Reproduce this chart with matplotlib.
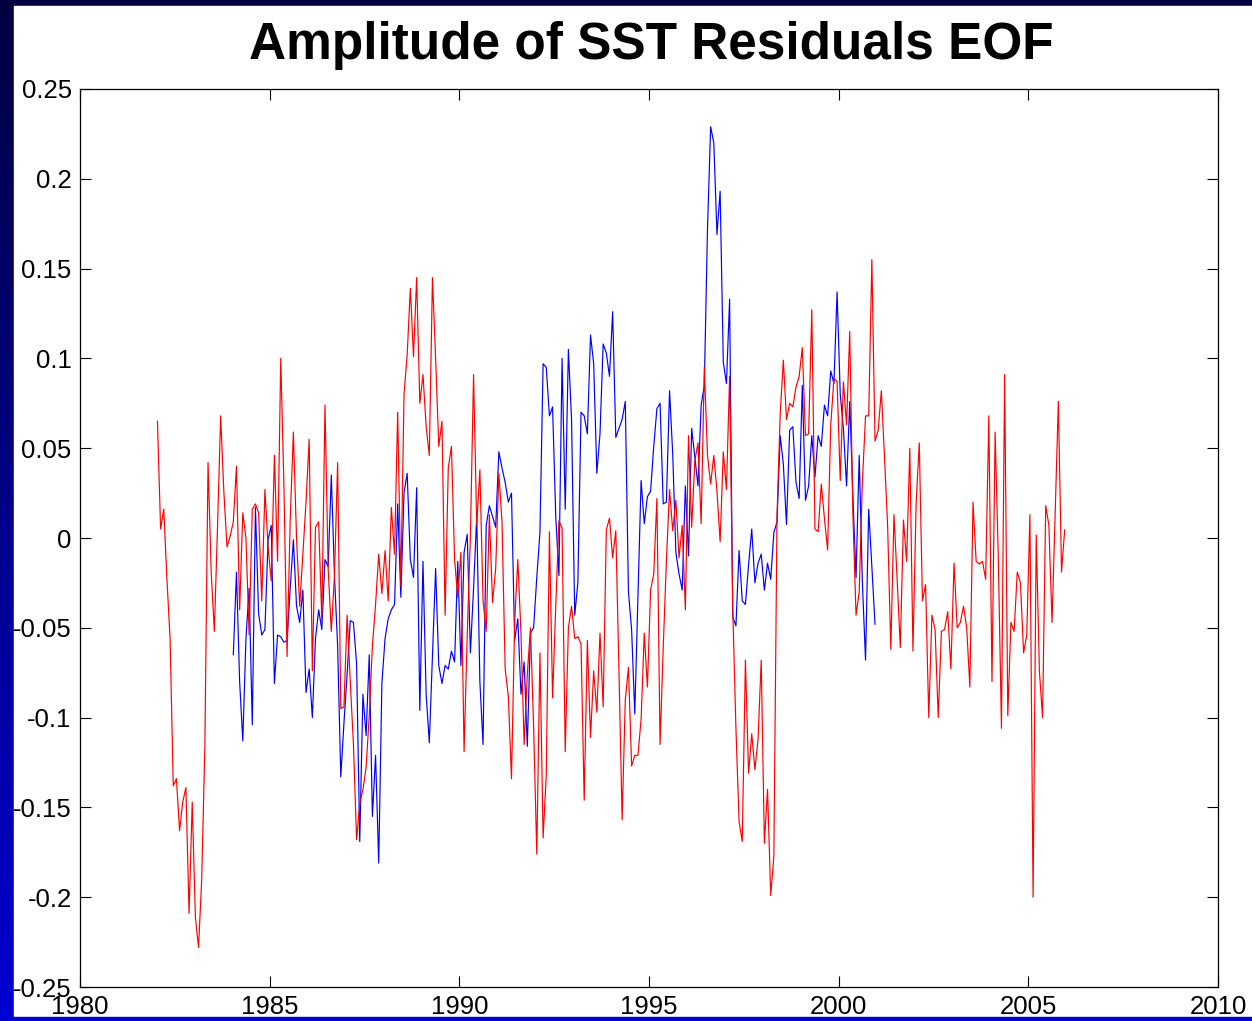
import numpy as np
import matplotlib
matplotlib.use("Agg")
import matplotlib.pyplot as plt
from matplotlib.colors import LinearSegmentedColormap
from matplotlib.patches import Rectangle

plt.rcParams["font.family"] = ["Liberation Sans", "DejaVu Sans"]
plt.rcParams["axes.unicode_minus"] = False

# monthly EOF amplitudes
red_start = 1982.0
red_amp = [
    0.065, 0.005, 0.016, -0.023, -0.056, -0.138, -0.134, -0.163, -0.147, -0.139, -0.209, -0.147,
    -0.211, -0.228, -0.19, -0.116, 0.042, -0.019, -0.052, 0.006, 0.068, 0.026, -0.005, 0.001,
    0.009, 0.04, -0.04, 0.014, 0.0, -0.054, 0.016, 0.019, 0.014,
    -0.035, 0.027, -0.005, -0.024, 0.046, -0.013, 0.1, 0.03, -0.066, 0.01, 0.059, 0.0,
    -0.038, -0.009, 0.02, 0.055, -0.074, 0.006, 0.009, -0.046, 0.074, -0.017, -0.052, -0.021,
    0.042, -0.095, -0.094, -0.043, -0.08, -0.115, -0.168, -0.148, -0.14, -0.128, -0.099, -0.06,
    -0.037, -0.009, -0.031, -0.007, -0.035,
    0.017, -0.009, 0.07, -0.027, 0.08, 0.102, 0.139, 0.101, 0.145, 0.075, 0.091, 0.062,
    0.046, 0.145, 0.1, 0.051, 0.065, -0.043, 0.039, 0.051, -0.012, -0.033, -0.008, -0.119,
    -0.054, 0.001, 0.091, 0.007, 0.038, -0.035, -0.052, 0.013, -0.036, -0.017, 0.036, 0.009,
    -0.073, -0.088, -0.134, -0.047, -0.012, -0.053, -0.115, -0.076, -0.05, -0.105, -0.176, -0.064,
    -0.167, -0.132, 0.0035, -0.089, -0.038, 0.0095, 0.0056, -0.119, -0.05, -0.038, -0.056, -0.055,
    -0.059, -0.146, -0.057, -0.111, -0.074, -0.097, -0.053, -0.094, 0.0045, 0.011, -0.011, 0.004,
    -0.074, -0.157, -0.09, -0.072,
    -0.127, -0.121, -0.121, -0.101, -0.053, -0.083, -0.029, -0.02, 0.022, -0.115, -0.061, -0.013,
    0.027, 0.004, 0.021, -0.011, 0.007, -0.04, 0.057, 0.006, 0.043, 0.053, 0.008, 0.095,
    0.046, 0.03, 0.046, 0.026, -0.002, 0.048, 0.027, 0.09, -0.04, -0.106, -0.158, -0.169,
    -0.068, -0.131,
    -0.109, -0.129, -0.112, -0.068, -0.17, -0.14, -0.199, -0.177, 0.013, 0.069, 0.099, 0.066,
    0.075, 0.073, 0.084, 0.09, 0.106, 0.057, 0.058, 0.127, 0.005, 0.0035, 0.03, 0.011,
    -0.0067, 0.063, 0.089, 0.087, 0.032, 0.087, 0.063, 0.115, 0.013, -0.043, -0.03, 0.031,
    0.068, 0.068,
    0.155, 0.054, 0.06, 0.082, 0.045, 0.006, -0.062, 0.013, -0.023, -0.061, 0.01, -0.013,
    0.05, -0.063, 0.019, 0.053, -0.035, -0.026, -0.1, -0.043, -0.051, -0.1, -0.052, -0.051,
    -0.041, -0.073, -0.014, -0.05, -0.047, -0.038, -0.05, -0.083,
    0.02, -0.013, -0.0145, -0.013, -0.023, 0.068, -0.08, 0.059, -0.011, -0.106, 0.091, -0.099,
    -0.047, -0.052, -0.019, -0.025, -0.064, -0.054, 0.013, -0.2, 0.0017, -0.074, -0.1, 0.018,
    0.007, -0.047, 0.015, 0.076, -0.019, 0.0045,
]

blue_start = 1984.0
blue_amp = [
    -0.065, -0.019, -0.08, -0.113, -0.056, -0.028, -0.104, 0.017,
    -0.042, -0.054, -0.051, -0.001, 0.007, -0.081, -0.054, -0.055, -0.058, -0.057, -0.028, -0.001,
    -0.038, -0.047, -0.029, -0.086, -0.073, -0.1, -0.056, -0.04, -0.051, -0.012, -0.016, 0.035,
    -0.021, -0.06, -0.133, -0.103, -0.076, -0.046, -0.047, -0.07, -0.169, -0.087, -0.11, -0.065,
    -0.155, -0.121, -0.181, -0.081, -0.056, -0.045,
    -0.04, -0.037, 0.019, -0.033, 0.025, 0.036, -0.012, -0.022, 0.028, -0.096, -0.013, -0.087,
    -0.114, -0.065, -0.017, -0.071, -0.081, -0.071, -0.073, -0.063, -0.069, -0.013, -0.071, -0.008,
    0.002, -0.064, -0.028, 0.012, -0.08, -0.115, 0.007, 0.018, 0.012, 0.006,
    0.048, 0.039, 0.031, 0.02, 0.025, -0.057, -0.045, -0.087, -0.069, -0.116, -0.053, -0.05,
    -0.022, 0.003, 0.097, 0.095, 0.068, 0.073, 0.012, -0.021, 0.1, 0.016, 0.105, 0.066,
    -0.043, -0.025, 0.07, 0.068, 0.058, 0.113, 0.097, 0.036, 0.058, 0.108, 0.103, 0.09,
    0.126, 0.056,
    0.061, 0.066, 0.076, -0.03, -0.051, -0.098, -0.032, 0.032, 0.008, 0.023, 0.026, 0.051,
    0.072, 0.075, 0.019, 0.02, 0.082, 0.047, -0.008, -0.02, -0.029, 0.029, -0.01, 0.061,
    0.045, 0.029, 0.074, 0.085, 0.172, 0.229, 0.22, 0.169, 0.193, 0.098, 0.086, 0.133,
    -0.044, -0.049, -0.007, -0.035, -0.037,
    -0.015, 0.005, -0.025, -0.014, -0.009, -0.029, -0.014, -0.023, 0.003, 0.009, 0.057, 0.041,
    0.0075, 0.06, 0.062, 0.031, 0.022, 0.085, 0.021, 0.029, 0.057, 0.034, 0.057, 0.051,
    0.074, 0.068, 0.093, 0.086, 0.137, 0.08, 0.061, 0.029, 0.076, 0.023, -0.022, 0.046,
    -0.025, -0.068, 0.016, -0.016, -0.048,
]

x_ticks = [1980, 1985, 1990, 1995, 2000, 2005, 2010]
y_ticks = [-0.25, -0.2, -0.15, -0.1, -0.05, 0, 0.05, 0.1, 0.15, 0.2, 0.25]
y_labels = ["-0.25", "-0.2", "-0.15", "-0.1", "-0.05", "0", "0.05", "0.1", "0.15", "0.2", "0.25"]

W, H = 1252, 1021
fig = plt.figure(figsize=(W / 100, H / 100), dpi=100, facecolor="white")

# slide background: dark navy to blue, white panel on top
bg = fig.add_axes([0, 0, 1, 1], zorder=-10)
slide = LinearSegmentedColormap.from_list("slide", ["#0000d2", "#000040"])
bg.imshow(np.linspace(0, 1, 256).reshape(-1, 1), cmap=slide, aspect="auto",
          extent=[0, 1, 0, 1], origin="lower")
bg.add_patch(Rectangle((14 / W, 4 / H), 1 - 14 / W, 1 - 10 / H, color="white"))
bg.set_xlim(0, 1)
bg.set_ylim(0, 1)
bg.axis("off")

ax = fig.add_axes([80 / W, 34 / H, 1138 / W, 898 / H])
t_red = red_start + (np.arange(len(red_amp)) + 0.5) / 12
t_blue = blue_start + (np.arange(len(blue_amp)) + 0.5) / 12
ax.plot(t_blue, blue_amp, color="blue", lw=0.85)
ax.plot(t_red, red_amp, color="red", lw=0.85)

ax.set_xlim(1980, 2010)
ax.set_ylim(-0.25, 0.25)
ax.set_xticks(x_ticks)
ax.set_xticklabels([str(v) for v in x_ticks])
ax.set_yticks(y_ticks)
ax.set_yticklabels(y_labels)
ax.tick_params(direction="in", length=8, width=0.8, labelsize=18.5,
               top=True, right=True, colors="black")
ax.tick_params(axis="x", pad=6)
ax.tick_params(axis="y", pad=6)
for s in ax.spines.values():
    s.set_linewidth(0.9)

fig.text(651 / W, 1 - 45 / H, "Amplitude of SST Residuals EOF", ha="center",
         va="center", fontsize=37, fontweight="bold")

# blue strip along the bottom edge, drawn over the year labels
fig.add_artist(Rectangle((0, 0), 1, 4 / H, transform=fig.transFigure,
                         color="#0000d2", zorder=20))

fig.savefig("out.png", dpi=100)
